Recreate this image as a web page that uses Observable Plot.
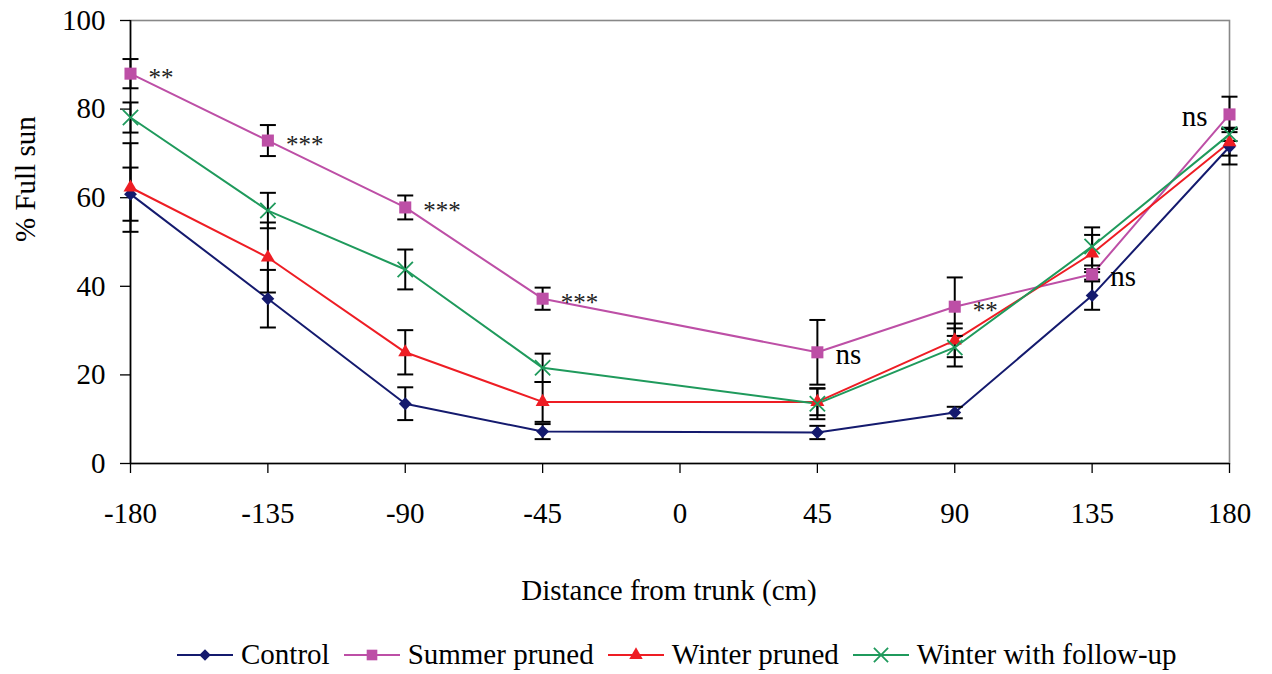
<!DOCTYPE html>
<html>
<head>
<meta charset="utf-8">
<script src="https://cdn.jsdelivr.net/npm/d3@7"></script>
<script src="https://cdn.jsdelivr.net/npm/@observablehq/plot@0.6"></script>
<style>
  body { margin: 0; background: #fff; font-family: "Liberation Serif", "DejaVu Serif", "Times New Roman", serif; }
  #chart svg { display: block; }
  #legend { display: flex; align-items: center; height: 39px; padding-left: 177px; font-size: 29px; color: #000; }
  #legend .item { display: flex; align-items: center; margin-right: 14px; }
  #legend svg { margin-right: 8px; }
</style>
</head>
<body>
<div id="chart"></div>
<div id="legend"></div>
<script>
// ---- data ----
const xs = [-180, -135, -90, -45, 45, 90, 135, 180];
const xTicks = [-180, -135, -90, -45, 0, 45, 90, 135, 180];
const yTicks = [0, 20, 40, 60, 80, 100];
const seriesNames = ["Control", "Summer pruned", "Winter pruned", "Winter with follow-up"];

const control     = [60.8, 37.2, 13.5, 7.2, 7.0, 11.5, 37.9, 71.5];
const controlErr  = [6.0, 6.5, 3.7, 1.7, 1.5, 1.3, 3.2, 4.0];
const summer      = [88.0, 72.9, 57.8, 37.2, 25.1, 35.4, 42.7, 78.8];
const summerErr   = [3.3, 3.5, 2.7, 2.5, 7.3, 6.6, 1.2, 4.0];
const winter      = [62.3, 46.5, 25.1, 13.9, 13.9, 27.8, 47.4, 72.5];
const winterErr   = [10.0, 7.9, 5.0, 4.5, 3.0, 3.8, 4.2, 3.0];
const follow      = [78.1, 57.1, 43.8, 21.6, 13.5, 26.2, 49.0, 74.3];
const followErr   = [3.4, 4.0, 4.5, 3.2, 3.5, 4.3, 4.3, 1.5];

const sigLabels = ["**", "***", "***", "***", "ns", "**", "ns", "ns"];

// ---- build table ----
const values = [control, summer, winter, follow];
const errors = [controlErr, summerErr, winterErr, followErr];
const rows = seriesNames.flatMap((s, i) =>
  xs.map((x, j) => ({series: s, x, y: values[i][j], e: errors[i][j]}))
);
const sig = xs.map((x, j) => ({x, y: summer[j], label: sigLabels[j], last: j === xs.length - 1}));

const colors = ["#141a6e", "#bd4fa6", "#ee1d24", "#1f9a5c"];
const bySeries = s => rows.filter(d => d.series === s);

const cap = {
  draw(ctx) { ctx.moveTo(-8, 0); ctx.lineTo(8, 0); }
};

const serif = "'Liberation Serif', 'DejaVu Serif', 'Times New Roman', serif";

const plot = Plot.plot({
  width: 1272,
  height: 635,
  marginLeft: 130,
  marginRight: 43,
  marginTop: 20,
  marginBottom: 172,
  style: {fontFamily: serif, fontSize: "29px", color: "#000", background: "#fff", overflow: "visible"},
  x: {domain: [-180, 180]},
  y: {domain: [0, 100]},
  color: {domain: seriesNames, range: colors},
  marks: [
    Plot.frame({stroke: "#888", strokeWidth: 1.6}),
    Plot.ruleX([-180], {stroke: "#000", strokeWidth: 1.6}),
    Plot.ruleY([0], {stroke: "#000", strokeWidth: 1.6}),
    Plot.axisX({ticks: xTicks, tickSize: 10, tickPadding: 29, tickFormat: d => String(d), label: null, strokeWidth: 1.3, fontFamily: serif}),
    Plot.axisY({ticks: yTicks, tickSize: 10, tickPadding: 15, tickFormat: d => String(d), label: null, strokeWidth: 1.3, fontFamily: serif}),
    Plot.text(["Distance from trunk (cm)"], {frameAnchor: "bottom", dy: 127, dx: -11, lineAnchor: "middle", fontSize: 29, fontFamily: serif}),
    Plot.text(["% Full sun"], {frameAnchor: "left", dx: -105, rotate: -90, lineAnchor: "middle", fontSize: 29, fontFamily: serif}),
    Plot.line(rows, {x: "x", y: "y", z: "series", stroke: "series", strokeWidth: 2}),
    Plot.link(rows, {x1: "x", x2: "x", y1: d => d.y - d.e, y2: d => d.y + d.e, stroke: "#000", strokeWidth: 2}),
    Plot.dot(rows, {x: "x", y: d => d.y + d.e, symbol: cap, r: 1, stroke: "#000", strokeWidth: 2}),
    Plot.dot(rows, {x: "x", y: d => d.y - d.e, symbol: cap, r: 1, stroke: "#000", strokeWidth: 2}),
    Plot.dot(bySeries("Control"), {x: "x", y: "y", symbol: "diamond2", r: 5.8, fill: colors[0], stroke: "none"}),
    Plot.dot(bySeries("Summer pruned"), {x: "x", y: "y", symbol: "square", r: 6.8, fill: colors[1], stroke: "none"}),
    Plot.dot(bySeries("Winter pruned"), {x: "x", y: "y", symbol: "triangle", r: 5.2, fill: colors[2], stroke: "none"}),
    Plot.dot(bySeries("Winter with follow-up"), {x: "x", y: "y", symbol: "times", r: 7, stroke: colors[3], strokeWidth: 1.8}),
    Plot.text(sig.filter(d => d.label.includes("*")), {x: "x", y: "y", text: "label", textAnchor: "start", dx: 18, dy: 4, fontSize: 25, lineAnchor: "middle", fill: "#222", fontFamily: serif}),
    Plot.text(sig.filter(d => d.label === "ns" && !d.last), {x: "x", y: "y", text: "label", textAnchor: "start", dx: 18, dy: 2, fontSize: 29, lineAnchor: "middle", fontFamily: serif}),
    Plot.text(sig.filter(d => d.label === "ns" && d.last), {x: "x", y: "y", text: "label", textAnchor: "end", dx: -22, dy: 2, fontSize: 29, lineAnchor: "middle", fontFamily: serif})
  ]
});
document.getElementById("chart").appendChild(plot);

// ---- legend ----
const symbolDefs = [
  {type: d3.symbolDiamond2, r: 5.2, fill: true},
  {type: d3.symbolSquare, r: 6.0, fill: true},
  {type: d3.symbolTriangle, r: 5.0, fill: true},
  {type: d3.symbolTimes, r: 6.5, fill: false}
];
const legend = d3.select("#legend");
seriesNames.forEach((s, i) => {
  const item = legend.append("div").attr("class", "item");
  const sv = item.append("svg").attr("width", 56).attr("height", 24);
  sv.append("line").attr("x1", 0).attr("x2", 56).attr("y1", 12).attr("y2", 12)
    .attr("stroke", colors[i]).attr("stroke-width", 2);
  const def = symbolDefs[i];
  sv.append("path")
    .attr("transform", "translate(28,12)")
    .attr("d", d3.symbol(def.type, Math.PI * def.r * def.r)())
    .attr("fill", def.fill ? colors[i] : "none")
    .attr("stroke", def.fill ? "none" : colors[i])
    .attr("stroke-width", 1.8);
  item.append("span").text(s);
});
</script>
</body>
</html>
